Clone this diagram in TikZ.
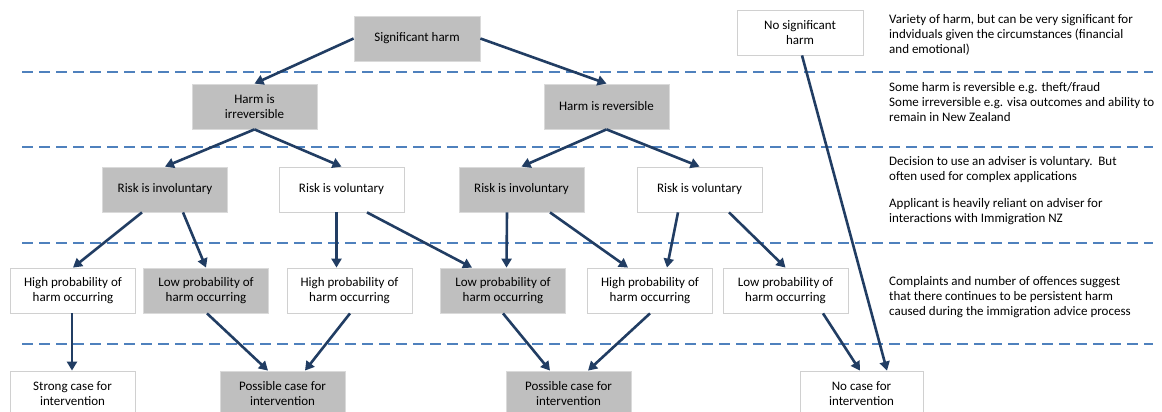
\documentclass[tikz,border=0pt]{standalone}
\usepackage{fontspec}
\setmainfont{Carlito}
\usetikzlibrary{arrows.meta,calc}

\definecolor{boxgray}{HTML}{BFBFBF}
\definecolor{boxedge}{HTML}{DADADA}
\definecolor{whiteedge}{HTML}{D0D0D0}
\definecolor{arrowblue}{HTML}{213D63}
\definecolor{tierblue}{HTML}{4F81BD}

\tikzset{
  box/.style={minimum width=125pt, minimum height=45pt, inner sep=2pt,
    align=center, line width=0.8pt, font=\fontsize{13}{15}\selectfont},
  graybox/.style={box, fill=boxgray, draw=boxedge},
  whitebox/.style={box, fill=white, draw=whiteedge},
  link/.style={draw=arrowblue, line width=2.6pt,
    -{Triangle[length=9pt,width=10pt]}},
  tier/.style={draw=tierblue, line width=1.8pt, dash pattern=on 11pt off 6pt},
  note/.style={anchor=north west, inner sep=0pt, align=left,
    font=\fontsize{13}{15}\selectfont},
}

\begin{document}
\begin{tikzpicture}[x=1pt,y=-1pt]
  \clip (0,0) rectangle (1162,412);
  \fill[white] (0,0) rectangle (1162,412);

  % tier separators
  \foreach \yy in {72,147,243,344}
    \draw[tier] (22,\yy) -- (1153,\yy);

  % level 1
  \node[graybox, minimum width=126pt] (sig) at (417,38.5) {Significant harm};
  \node[whitebox, minimum width=126pt] (nosig) at (800,32.5) {No significant\\harm};

  % level 2
  \node[graybox] (irr) at (254.5,106.5) {Harm is\\irreversible};
  \node[graybox] (rev) at (606.5,106.5) {Harm is reversible};

  % level 3
  \node[graybox] (inv1) at (165,189.5) {Risk is involuntary};
  \node[whitebox] (vol1) at (341.5,189.5) {Risk is voluntary};
  \node[graybox] (inv2) at (521.5,189.5) {Risk is involuntary};
  \node[whitebox] (vol2) at (699.5,189.5) {Risk is voluntary};

  % level 4
  \node[whitebox] (high1) at (73,290.5) {High probability of\\harm occurring};
  \node[graybox] (low1) at (206,290.5) {Low probability of\\harm occurring};
  \node[whitebox] (high2) at (349.5,290.5) {High probability of\\harm occurring};
  \node[graybox] (low2) at (503,290.5) {Low probability of\\harm occurring};
  \node[whitebox] (high3) at (650,290.5) {High probability of\\harm occurring};
  \node[whitebox] (low3) at (785.5,290.5) {Low probability of\\harm occurring};

  % outcomes
  \node[whitebox] (strong) at (72.5,393.5) {Strong case for\\intervention};
  \node[graybox] (poss1) at (282.5,393.5) {Possible case for\\intervention};
  \node[graybox] (poss2) at (568.5,393.5) {Possible case for\\intervention};
  \node[whitebox, minimum width=123pt] (nocase) at (861.5,393.5) {No case for\\intervention};

  % commentary column
  \node[note] (n1) at (889,14.5) {Variety of harm, but can be very significant for\\indviduals given the circumstances (financial\\and emotional)};
  \node[note] (n2) at (889,82.5) {Some harm is reversible e.g. theft/fraud\\Some irreversible e.g. visa outcomes and ability to\\remain in New Zealand};
  \node[note] (n3) at (889,156.5) {Decision to use an adviser is voluntary.\ \ But\\often used for complex applications};
  \node[note] (n4) at (889,198.5) {Applicant is heavily reliant on adviser for\\interactions with Immigration NZ};
  \node[note] (n5) at (889,276.5) {Complaints and number of offences suggest\\that there continues to be persistent harm\\caused during the immigration advice process};

  % connectors
  \draw[link] (sig.west) -- (irr.north);
  \draw[link] (sig.east) -- (rev.north);
  \draw[link] ($(nosig.south)+(2,0)$) -- ($(nocase.north)+(25.5,0)$);

  \draw[link] (irr.south) -- (inv1.north);
  \draw[link] (irr.south) -- (vol1.north);
  \draw[link] (rev.south) -- (inv2.north);
  \draw[link] (rev.south) -- (vol2.north);

  \draw[link] ($(inv1.south)+(-23,0)$) -- (high1.north);
  \draw[link] ($(inv1.south)+(18,0)$) -- (low1.north);
  \draw[link] ($(vol1.south)+(-5,0)$) -- ($(high2.north)+(-13,0)$);
  \draw[link] ($(vol1.south)+(25.5,0)$) -- ($(low2.north)+(-31,0)$);
  \draw[link] ($(inv2.south)+(-14.5,0)$) -- ($(low2.north)+(3.5,0)$);
  \draw[link] ($(inv2.south)+(28.5,0)$) -- ($(high3.north)+(-22,0)$);
  \draw[link] ($(vol2.south)+(-21.5,0)$) -- ($(high3.north)+(17,0)$);
  \draw[link] ($(vol2.south)+(29.5,0)$) -- (low3.north);

  \draw[link] ($(high1.south)+(-1,0)$) -- ($(strong.north)+(-0.5,0)$);
  \draw[link] ($(low1.south)+(1,0)$) -- ($(poss1.north)+(-14.5,0)$);
  \draw[link] ($(high2.south)+(0.5,0)$) -- ($(poss1.north)+(22.5,0)$);
  \draw[link] (low2.south) -- ($(poss2.north)+(-18.5,0)$);
  \draw[link] (high3.south) -- ($(poss2.north)+(19.5,0)$);
  \draw[link] ($(low3.south)+(37.5,0)$) -- ($(nocase.north)+(-1.5,0)$);
\end{tikzpicture}
\end{document}
